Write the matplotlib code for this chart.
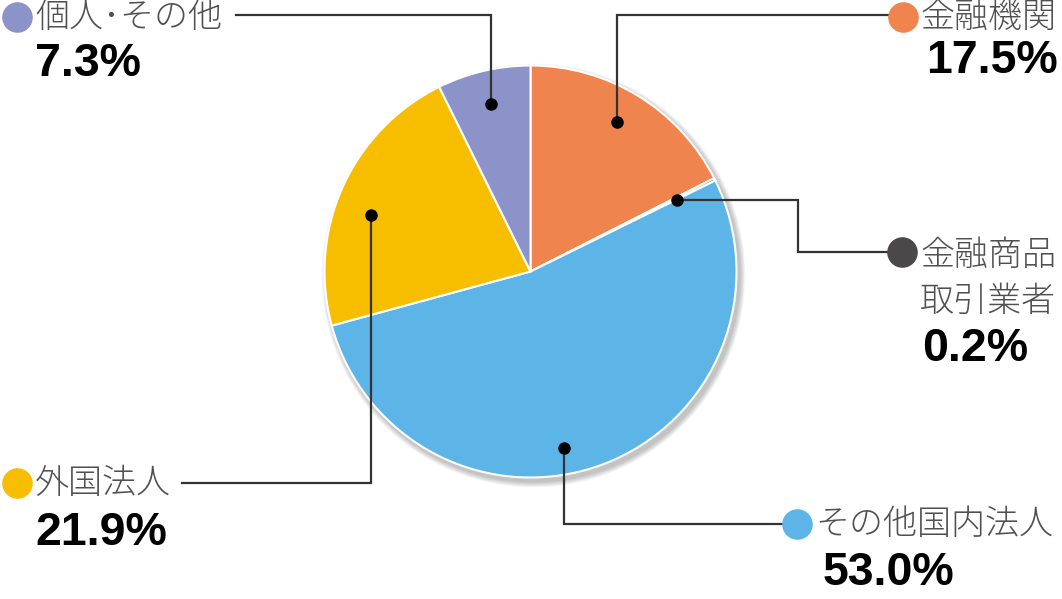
import matplotlib
matplotlib.use("Agg")
import matplotlib.pyplot as plt
from matplotlib.patches import Circle

W, H = 1062, 599

# data (clockwise from 12 o'clock)
labels = ["金融機関", "金融商品\n取引業者", "その他国内法人", "外国法人", "個人･その他"]
shares = [17.5, 0.2, 53.0, 21.9, 7.3]
share_text = ["17.5%", "0.2%", "53.0%", "21.9%", "7.3%"]
colors = ["#F0844F", "#4A4848", "#5DB5E7", "#F7BE00", "#8B93C8"]

plt.rcParams['font.family'] = ['Noto Sans CJK JP', 'DejaVu Sans']

fig = plt.figure(figsize=(W / 100, H / 100), dpi=100)
ax = fig.add_axes([0, 0, 1, 1])


def Y(y):
    # pixel row -> data y
    return H - y


cx, cy, r = 530.5, Y(271.5), 206

# soft shadow under the pie
for k in range(7):
    ax.add_patch(Circle((cx + 3, cy - 4), r + 1 + k * 0.8, color='black',
                        alpha=0.035, lw=0, zorder=0))

ax.pie(shares, colors=colors, startangle=90, counterclock=False,
       center=(cx, cy), radius=r, frame=True,
       wedgeprops=dict(edgecolor='white', linewidth=1.5))
ax.set_xlim(0, W)
ax.set_ylim(0, H)
ax.set_aspect('equal')
ax.axis('off')

# leader lines: anchor dot -> elbow(s) -> label marker (pixel coords)
paths = [
    [(617, 122), (617, 15), (888, 15)],
    [(677, 200), (798, 200), (798, 252), (890, 252)],
    [(564, 448), (564, 524), (785, 524)],
    [(371, 215), (371, 483), (182, 483)],
    [(491, 104), (491, 15), (236, 15)],
]
markers = [(903, 17), (902, 252), (797, 524), (17, 483), (17, 17)]
label_pos = [(920, 17), (920, 278), (815, 524), (35, 483), (35, 17)]
pct_pos = [(1058, 61, 'right'), (922, 349, 'left'), (823, 573, 'left'),
           (35, 533, 'left'), (35, 64, 'left')]

for i in range(len(labels)):
    xs = [p[0] for p in paths[i]]
    ys = [Y(p[1]) for p in paths[i]]
    ax.plot(xs, ys, color='#333333', lw=1.6, zorder=3, solid_joinstyle='miter')
    ax.plot(xs[0], ys[0], 'o', color='black', ms=8, zorder=4)
    mx, my = markers[i]
    ax.plot(mx, Y(my), 'o', color=colors[i], ms=21, zorder=4)
    lx, ly = label_pos[i]
    ax.text(lx, Y(ly), labels[i], fontsize=24.5, color='#505050',
            fontweight='light', ha='left', va='center', linespacing=1.38)
    px, py, ha = pct_pos[i]
    ax.text(px, Y(py), share_text[i], fontsize=33.5, fontweight='bold',
            family='Liberation Sans', color='black', ha=ha, va='center')

fig.savefig('out.png', dpi=100)
